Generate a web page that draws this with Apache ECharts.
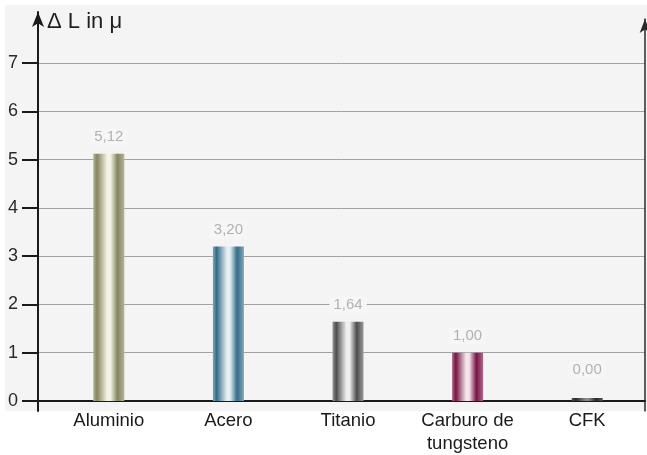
<!DOCTYPE html>
<html>
<head>
<meta charset="utf-8">
<script src="https://cdn.jsdelivr.net/npm/echarts@6/dist/echarts.min.js"></script>
<style>
  html, body { margin: 0; padding: 0; background: #ffffff; }
  #chart { width: 647px; height: 455px; }
</style>
</head>
<body>
<div id="chart"></div>
<script>
// Thermal elongation per material
const categories = ['Aluminio', 'Acero', 'Titanio', 'Carburo de\ntungsteno', 'CFK'];
const values = [5.12, 3.20, 1.64, 1.00, 0.00];
const yMin = 0;
const yMax = 7;
const yStep = 1;
const axisTitle = '\u0394 L in \u03bc';

// Shading for each bar: edge, mid tone, highlight
const barShades = [
  ['#858560', '#b4b494', '#f4f4e6'],
  ['#346a86', '#7ea7bb', '#e6eff3'],
  ['#4c4c4c', '#9a9a9a', '#f0f0f0'],
  ['#761543', '#b0668a', '#f4e5ec'],
  ['#2a2a2a', '#555555', '#888888']
];

const FONT = '"Liberation Sans", Arial, sans-serif';

function cylinder(shade) {
  return new echarts.graphic.LinearGradient(0, 0, 1, 0, [
    { offset: 0, color: shade[1] },
    { offset: 0.12, color: shade[0] },
    { offset: 0.45, color: shade[2] },
    { offset: 0.55, color: shade[2] },
    { offset: 0.78, color: shade[0] },
    { offset: 1, color: shade[1] }
  ]);
}

const barData = values.map((v, i) => {
  const item = { value: v, itemStyle: { color: cylinder(barShades[i]) } };
  if (v === 0) item.label = { distance: 20 };
  return item;
});

const chart = echarts.init(document.getElementById('chart'), null, { renderer: 'canvas' });

chart.setOption({
  animation: false,
  backgroundColor: '#ffffff',
  title: {
    text: axisTitle,
    left: 42,
    top: 6,
    textStyle: { fontFamily: FONT, fontSize: 22, fontWeight: 'normal', color: '#1e1e1e' }
  },
  grid: [
    // panel background
    { left: 5, top: 5, right: 0, bottom: 44, show: true, backgroundColor: '#f4f4f4', borderWidth: 0 },
    // value scale with gridlines
    { left: 38, right: 2, top: 63, bottom: 54 },
    // left axis line with arrow
    { left: 38, right: 2, top: 12, bottom: 44 },
    // right axis line with arrow
    { left: 38, right: 2, top: 19, bottom: 44 },
    // bars and category labels
    { left: 49, right: -12, top: 63, bottom: 54 }
  ],
  xAxis: [
    { gridIndex: 0, type: 'value', show: false },
    {
      gridIndex: 1, type: 'category', data: categories,
      axisLine: { show: true, lineStyle: { color: '#1a1a1a', width: 2 } },
      axisTick: { show: false }, axisLabel: { show: false }, splitLine: { show: false }
    },
    { gridIndex: 2, type: 'value', show: false },
    { gridIndex: 3, type: 'value', show: false },
    {
      gridIndex: 4, type: 'category', data: categories,
      axisLine: { show: false }, axisTick: { show: false },
      axisLabel: { color: '#1a1a1a', fontFamily: FONT, fontSize: 18.5, margin: 8, lineHeight: 23, interval: 0 }
    }
  ],
  yAxis: [
    { gridIndex: 0, type: 'value', show: false },
    {
      gridIndex: 1, type: 'value', min: yMin, max: yMax, interval: yStep,
      axisLine: { show: false },
      axisTick: { show: true, length: 16, lineStyle: { color: '#1a1a1a', width: 2 } },
      axisLabel: { color: '#2a2a2a', fontFamily: FONT, fontSize: 18, margin: 20 },
      splitLine: { show: true, lineStyle: { color: '#a2a2a2', width: 1 } }
    },
    {
      gridIndex: 2, type: 'value', min: 0, max: 1,
      axisLine: { show: true, onZero: false, symbol: ['none', 'arrow'], symbolSize: [9, 15], lineStyle: { color: '#1a1a1a', width: 2 } },
      axisTick: { show: false }, axisLabel: { show: false }, splitLine: { show: false }
    },
    {
      gridIndex: 3, type: 'value', position: 'right', min: 0, max: 1,
      axisLine: { show: true, onZero: false, symbol: ['none', 'arrow'], symbolSize: [8, 14], lineStyle: { color: '#2a2a2a', width: 1.5 } },
      axisTick: { show: false }, axisLabel: { show: false }, splitLine: { show: false }
    },
    { gridIndex: 4, type: 'value', min: yMin, max: yMax, interval: yStep, show: false }
  ],
  series: [
    {
      type: 'bar',
      xAxisIndex: 4,
      yAxisIndex: 4,
      barWidth: 31,
      barMinHeight: 3,
      data: barData,
      label: {
        show: true,
        position: 'top',
        distance: 8,
        color: '#b2b2b2',
        fontFamily: FONT,
        fontSize: 15,
        backgroundColor: '#f6f6f6',
        padding: [1, 4],
        formatter: p => p.value.toFixed(2).replace('.', ',')
      }
    }
  ]
});
</script>
</body>
</html>
